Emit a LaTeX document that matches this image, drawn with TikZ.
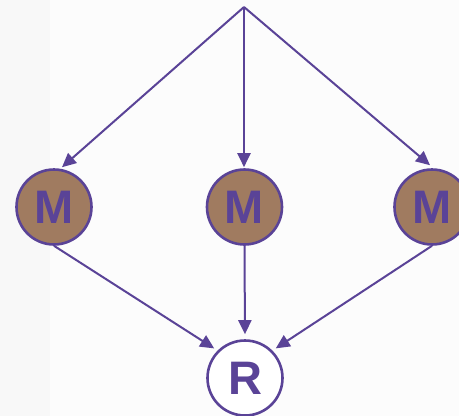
\documentclass[tikz,border=0pt]{standalone}
\usepackage{fontspec}
\setmainfont{Liberation Sans}
\usetikzlibrary{arrows.meta}
\definecolor{purp}{HTML}{5A4397}
\definecolor{brn}{HTML}{A07B60}
\definecolor{bgA}{HTML}{F8F8F8}
\definecolor{bgB}{HTML}{FCFCFC}
\tikzset{
  mnode/.style={circle, draw=purp, fill=brn, line width=2.6pt, minimum size=75pt, inner sep=0pt,
    text=purp, font=\fontsize{47}{47}\selectfont\bfseries},
  rnode/.style={mnode, fill=white},
  arr/.style={draw=purp, line width=2pt, -{Triangle[length=14pt,width=13pt]}}
}
\begin{document}
\begin{tikzpicture}[x=1pt,y=-1pt]
\useasboundingbox (0,0) rectangle (459,416);
\fill[bgB] (0,0) rectangle (459,416);
\fill[bgA] (0,0) rectangle (50,416);
\coordinate (top) at (244,7);
\node[mnode] (m1) at (54,207) {M};
\node[mnode] (m2) at (244.5,207) {M};
\node[mnode] (m3) at (432,207) {M};
\node[rnode] (r) at (245,378) {R};
\draw[arr] (top) -- ([shift={(8pt,1pt)}]m1.north);
\draw[arr] (top) -- ([shift={(-0.5pt,1pt)}]m2.north);
\draw[arr] (top) -- ([shift={(-2pt,3pt)}]m3.north);
\draw[arr, shorten >=4pt] (m1.south) -- (r.north west);
\draw[arr, shorten >=5pt] (m2.south) -- (r.north);
\draw[arr, shorten >=4pt] (m3.south) -- (r.north east);
\end{tikzpicture}
\end{document}
